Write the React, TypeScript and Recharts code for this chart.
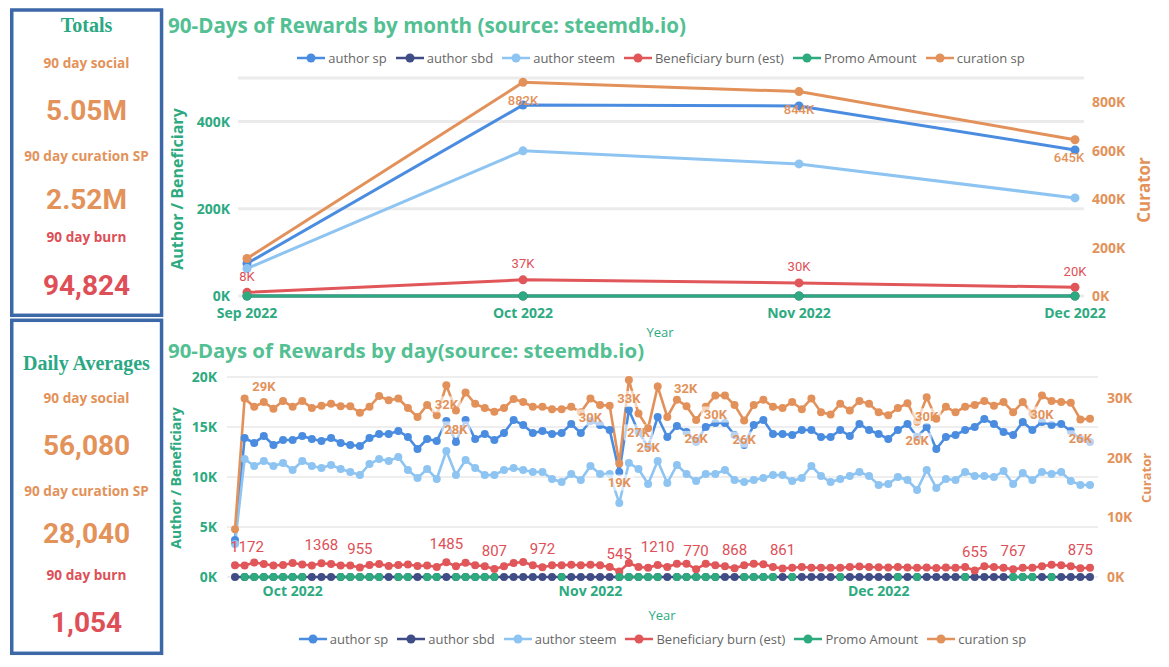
import React from 'react';
import { ComposedChart, Line, XAxis, YAxis, CartesianGrid } from 'recharts';

const GREEN = '#2DAA7F';
const TITLE_GREEN = '#52C092';
const ORANGE = '#E3925A';
const RED = '#DE4F57';
const BORDER = '#3D68A8';

const SERIES = [
  { key: 'authorSp', name: 'author sp', color: '#4A8CE0' },
  { key: 'authorSbd', name: 'author sbd', color: '#3F4C85' },
  { key: 'authorSteem', name: 'author steem', color: '#8EC4F2' },
  { key: 'burn', name: 'Beneficiary burn (est)', color: '#E05659' },
  { key: 'promo', name: 'Promo Amount', color: '#2DAA7E' },
  { key: 'curation', name: 'curation sp', color: '#E3915A' },
];

// monthly totals
const months = ['Sep 2022', 'Oct 2022', 'Nov 2022', 'Dec 2022'];
const monthAuthorSp = [74500, 438000, 436000, 335000];
const monthAuthorSbd = [0, 0, 0, 0];
const monthAuthorSteem = [63000, 333000, 303000, 225000];
const monthBurn = [8400, 37000, 30000, 20000];
const monthPromo = [0, 0, 0, 0];
const monthCuration = [155000, 882000, 844000, 645000];

// daily values, 2022-09-25 .. 2022-12-23 (K units unless noted)
const firstDay = '2022-09-25';
const dayAuthorSpK = [
  3.7, 13.9, 13.4, 14.1, 13.2, 13.7, 13.7, 14.1, 13.8, 13.6,
  13.9, 13.4, 13.2, 13.1, 13.9, 14.3, 14.3, 14.6, 14.0, 12.8,
  13.8, 13.6, 15.6, 13.5, 15.7, 13.8, 14.3, 13.7, 14.4, 15.7,
  15.2, 14.4, 14.6, 14.3, 14.4, 15.3, 14.4, 15.6, 15.2, 14.7,
  10.5, 16.7, 14.5, 13.0, 16.0, 14.0, 15.1, 14.5, 13.5, 15.0,
  15.4, 15.4, 14.2, 13.2, 15.2, 15.7, 14.3, 14.3, 14.2, 14.7,
  14.7, 14.0, 14.0, 14.7, 14.1, 15.3, 14.7, 14.3, 13.8, 14.7,
  15.3, 14.0, 15.0, 12.8, 14.0, 14.2, 14.7, 15.0, 15.8, 15.3,
  14.5, 14.2, 15.5, 14.7, 15.5, 15.2, 15.3, 14.6, 13.8, 13.5,
];
const dayAuthorSteemK = [
  3.3, 11.8, 11.1, 11.6, 11.1, 11.4, 10.7, 11.6, 11.1, 10.9,
  11.2, 10.8, 10.5, 10.2, 11.3, 11.8, 11.6, 12.0, 10.7, 9.9,
  10.8, 9.8, 12.6, 10.2, 11.7, 10.9, 10.2, 10.2, 10.7, 10.9,
  10.7, 10.5, 10.5, 9.8, 9.5, 10.3, 9.7, 11.1, 10.3, 10.3,
  7.4, 11.4, 10.8, 9.3, 11.6, 9.4, 11.2, 10.3, 9.6, 10.3,
  10.3, 10.7, 9.7, 9.5, 9.7, 9.9, 10.2, 10.2, 9.6, 9.9,
  11.1, 10.1, 9.5, 9.8, 10.1, 10.5, 10.1, 9.2, 9.3, 10.0,
  9.7, 8.7, 10.7, 8.9, 9.8, 9.7, 10.5, 10.1, 10.1, 10.0,
  10.6, 9.3, 10.4, 9.7, 10.5, 10.3, 10.5, 9.6, 9.2, 9.2,
];
const dayCurationK = [
  8.0, 29.9, 28.5, 29.3, 28.2, 29.5, 28.5, 29.5, 28.3, 28.7,
  29.0, 28.6, 28.6, 27.5, 28.5, 30.3, 29.6, 29.9, 28.3, 26.8,
  28.8, 27.1, 32.1, 27.9, 30.9, 29.0, 28.3, 27.7, 28.3, 29.8,
  29.3, 28.5, 28.5, 28.1, 28.1, 28.5, 27.6, 29.9, 28.8, 28.7,
  19.0, 33.0, 27.4, 24.9, 31.9, 26.8, 29.7, 28.6, 26.3, 28.5,
  30.4, 30.4, 28.8, 26.2, 28.8, 29.7, 28.5, 28.3, 29.3, 28.1,
  29.9, 27.6, 27.2, 29.0, 27.9, 29.5, 29.0, 27.6, 27.1, 28.3,
  29.1, 26.0, 30.1, 26.5, 28.5, 27.6, 28.5, 28.8, 29.5, 28.7,
  29.3, 27.6, 29.3, 27.4, 30.4, 29.5, 29.3, 29.2, 26.4, 26.5,
];
// raw units
const dayBurn = [
  1172, 1150, 1450, 1300, 1150, 1200, 1400, 1250, 1150, 1368,
  1300, 1150, 1150, 955, 1200, 1300, 1100, 1200, 1250, 1100,
  1150, 1000, 1485, 1070, 1430, 1170, 1070, 807, 1070, 1400,
  1500, 1170, 972, 1170, 1170, 1230, 1170, 1230, 1170, 1000,
  545, 1400, 1000, 930, 1210, 1000, 1330, 1330, 770, 1330,
  1170, 1070, 868, 1170, 1330, 1270, 1000, 861, 930, 1000,
  930, 930, 930, 930, 1000, 1050, 1000, 980, 950, 1000,
  950, 930, 950, 900, 950, 930, 1000, 655, 1070, 1000,
  930, 767, 930, 930, 1070, 1230, 1170, 1070, 875, 930,
];
const dayAuthorSbd = [
  0, 0, 0, 0, 0, 0, 0, 0, 0, 0,  0, 0, 0, 0, 0, 0, 0, 0, 0, 0,
  0, 0, 0, 0, 0, 0, 0, 0, 0, 0,  0, 0, 0, 0, 0, 0, 0, 0, 0, 0,
  0, 0, 0, 0, 0, 0, 0, 0, 0, 0,  0, 0, 0, 0, 0, 0, 0, 0, 0, 0,
  0, 0, 0, 0, 0, 0, 0, 0, 0, 0,  0, 0, 0, 0, 0, 0, 0, 0, 0, 0,
  0, 0, 0, 0, 0, 0, 0, 0, 0, 0,
];
const N = null;
const dayPromo = [
  N, 0, 0, 0, 0, 0, 0, 0, N, N,
  N, 0, 0, 0, 0, 0, N, 0, 0, N,
  0, 0, N, 0, 0, 0, 0, 0, N, N,
  N, N, N, N, 0, N, N, N, N, N,
  0, 0, 0, 0, 0, N, 0, 0, 0, 0,
  0, N, N, 0, 0, 0, 0, N, 0, N,
  N, N, N, 0, N, N, N, N, N, 0,
  N, 0, N, N, N, N, 0, N, N, N,
  N, 0, 0, 0, N, 0, N, N, N, N,
];

const dayTicks = ['2022-10-01', '2022-11-01', '2022-12-01'];
const dayTickLabels = ['Oct 2022', 'Nov 2022', 'Dec 2022'];

// which points carry a data label
const curationLabelIdx = [3, 22, 23, 37, 40, 41, 42, 43, 44, 48, 50, 53, 71, 72, 84, 88];
const curationLabelAbove = [3];
const curationLabelRight = [44];
const burnLabelIdx = [0, 9, 13, 22, 27, 32, 40, 44, 48, 52, 57, 77, 81, 88];

const days = dayAuthorSpK.map((_, i) => {
  const d = new Date(firstDay + 'T00:00:00Z');
  d.setUTCDate(d.getUTCDate() + i);
  return d.toISOString().slice(0, 10);
});

const monthRows = months.map((m, i) => ({
  month: m,
  authorSp: monthAuthorSp[i],
  authorSbd: monthAuthorSbd[i],
  authorSteem: monthAuthorSteem[i],
  burn: monthBurn[i],
  promo: monthPromo[i],
  curation: monthCuration[i],
}));

const dayRows = days.map((d, i) => ({
  day: d,
  authorSp: dayAuthorSpK[i] * 1000,
  authorSbd: dayAuthorSbd[i],
  authorSteem: dayAuthorSteemK[i] * 1000,
  burn: dayBurn[i],
  promo: dayPromo[i],
  curation: dayCurationK[i] * 1000,
}));

const kFmt = (v: number) => `${Math.round(v / 1000)}K`;

type Lab = { text: string; dx?: number; dy: number; fill: string; size: number; weight: number; halo?: boolean };

const makeDot = (fill: string, r: number, getLabel?: (i: number, v: number) => Lab | null) => (props: any) => {
  const { cx, cy, index, value } = props;
  if (cx == null || cy == null || Number.isNaN(cx) || Number.isNaN(cy)) return <g key={`e-${index}`} />;
  const v = Array.isArray(value) ? value[1] : value;
  const lab = getLabel ? getLabel(index, v) : null;
  const lx = lab ? cx + (lab.dx || 0) : cx;
  return (
    <g key={`d-${index}`}>
      <circle cx={cx} cy={cy} r={r} fill={fill} />
      {lab && (
        <g>
          {lab.halo && (
            <rect x={lx - lab.text.length * lab.size * 0.32 - 2} y={cy + lab.dy - lab.size * 0.62}
              width={lab.text.length * lab.size * 0.64 + 4} height={lab.size * 1.24} fill="#fff" fillOpacity={0.62} />
          )}
          <text x={lx} y={cy + lab.dy} textAnchor="middle" dominantBaseline="central"
            fontFamily="Roboto, sans-serif" fontSize={lab.size} fontWeight={lab.weight} fill={lab.fill}>{lab.text}</text>
        </g>
      )}
    </g>
  );
};

const monthBurnLabel = (i: number, v: number): Lab =>
  ({ text: kFmt(v), dy: -16, fill: RED, size: 13, weight: 400 });
const monthCurationLabel = (i: number, v: number): Lab | null =>
  i === 0 ? null : { text: kFmt(v), dx: i === 3 ? -6 : 0, dy: 18, fill: ORANGE, size: 13, weight: 500 };
const dayBurnLabel = (i: number, v: number): Lab | null =>
  burnLabelIdx.includes(i) ? { text: String(v), dx: i === 0 ? 12 : 0, dy: -18, fill: RED, size: 15, weight: 400 } : null;
const dayCurationLabel = (i: number, v: number): Lab | null => {
  if (!curationLabelIdx.includes(i)) return null;
  if (curationLabelRight.includes(i)) return { text: kFmt(v), dx: 28, dy: 2, fill: ORANGE, size: 13, weight: 700, halo: true };
  return { text: kFmt(v), dy: curationLabelAbove.includes(i) ? -16 : 19, fill: ORANGE, size: 13, weight: 700, halo: true };
};

const tickFont = { fontFamily: 'Open Sans', fontSize: 14, fontWeight: 700 };

const DayTick = (props: any) => {
  const { x, y, payload } = props;
  const k = dayTicks.indexOf(payload.value);
  if (k < 0) return <g />;
  return (
    <text x={x} y={y} dy={11} textAnchor="middle" fill={GREEN} {...tickFont}>{dayTickLabels[k]}</text>
  );
};

const LegendRow = ({ top, left, width }: { top: number; left: number; width: number }) => (
  <div style={{ position: 'absolute', top, left, width, height: 20, display: 'flex', justifyContent: 'center',
    alignItems: 'center', gap: 9, fontFamily: 'Open Sans', fontSize: 13, color: '#666', whiteSpace: 'nowrap' }}>
    {SERIES.map(s => (
      <div key={s.key} style={{ display: 'flex', alignItems: 'center' }}>
        <svg width={28} height={10}>
          <line x1={0} y1={5} x2={28} y2={5} stroke={s.color} strokeWidth={2.5} />
          <circle cx={14} cy={5} r={4.5} fill={s.color} />
        </svg>
        <span style={{ marginLeft: 3 }}>{s.name}</span>
      </div>
    ))}
  </div>
);

const seriesLines = (small: boolean, labels: Record<string, (i: number, v: number) => Lab | null>) =>
  SERIES.map(s => (
    <Line key={s.key} yAxisId={s.key === 'curation' ? 'right' : 'left'} type="linear" dataKey={s.key} name={s.name}
      stroke={s.color} strokeWidth={small ? 2.6 : 3} connectNulls={false}
      dot={makeDot(s.color, small ? 4 : 4.5, labels[s.key])} activeDot={false} isAnimationActive={false} />
  ));

const panelTexts = [
  { t: 'Totals', y: 25, kind: 'head' },
  { t: '90 day social', y: 62, kind: 'cap', c: ORANGE },
  { t: '5.05M', y: 110, kind: 'big', c: ORANGE },
  { t: '90 day curation SP', y: 155, kind: 'cap', c: ORANGE },
  { t: '2.52M', y: 199, kind: 'big', c: ORANGE },
  { t: '90 day burn', y: 236, kind: 'cap', c: RED },
  { t: '94,824', y: 285, kind: 'big', c: RED },
  { t: 'Daily Averages', y: 363, kind: 'head' },
  { t: '90 day social', y: 397, kind: 'cap', c: ORANGE },
  { t: '56,080', y: 445, kind: 'big', c: ORANGE },
  { t: '90 day curation SP', y: 490, kind: 'cap', c: ORANGE },
  { t: '28,040', y: 533, kind: 'big', c: ORANGE },
  { t: '90 day burn', y: 574, kind: 'cap', c: RED },
  { t: '1,054', y: 622, kind: 'big', c: RED },
];

export default function App() {
  return (
    <div style={{ position: 'absolute', left: 0, top: 0, width: 1169, height: 667, background: '#fff', overflow: 'hidden' }}>
      <div style={{ position: 'absolute', left: 160, top: 0 }}>
        <ComposedChart width={1009} height={340} data={monthRows} margin={{ top: 78, right: 0, bottom: 0, left: 0 }}>
          <CartesianGrid yAxisId="left" vertical={false} stroke="#EBEBEB" strokeWidth={3} />
          <XAxis dataKey="month" axisLine={false} tickLine={false} height={44} tickMargin={6}
            padding={{ left: 9, right: 9 }} interval={0} tick={{ fill: GREEN, ...tickFont }} />
          <YAxis yAxisId="left" width={78} domain={[0, 500000]} ticks={[0, 200000, 400000]} axisLine={false}
            tickLine={false} tickFormatter={kFmt} tick={{ fill: GREEN, ...tickFont }} />
          <YAxis yAxisId="right" orientation="right" width={85} domain={[0, 900000]}
            ticks={[0, 200000, 400000, 600000, 800000]} axisLine={false} tickLine={false} tickFormatter={kFmt}
            tick={{ fill: ORANGE, ...tickFont }} />
          {seriesLines(false, { burn: monthBurnLabel, curation: monthCurationLabel })}
        </ComposedChart>
      </div>

      <div style={{ position: 'absolute', left: 160, top: 340 }}>
        <ComposedChart width={1009} height={285} data={dayRows} margin={{ top: 37, right: 0, bottom: 0, left: 0 }}>
          <CartesianGrid yAxisId="left" vertical={false} stroke="#E8E8E8" strokeWidth={1.5} />
          <XAxis dataKey="day" axisLine={false} tickLine={false} height={48} interval={0}
            padding={{ left: 8, right: 8 }} tick={<DayTick />} />
          <YAxis yAxisId="left" width={67} domain={[0, 20000]} ticks={[0, 5000, 10000, 15000, 20000]}
            axisLine={false} tickLine={false} tickMargin={4} tickFormatter={kFmt} tick={{ fill: GREEN, ...tickFont }} />
          <YAxis yAxisId="right" orientation="right" width={71} domain={[0, 33500]} ticks={[0, 10000, 20000, 30000]}
            axisLine={false} tickLine={false} tickMargin={3} tickFormatter={kFmt} tick={{ fill: ORANGE, ...tickFont }} />
          {seriesLines(true, { burn: dayBurnLabel, curation: dayCurationLabel })}
        </ComposedChart>
      </div>

      <LegendRow top={48} left={238} width={846} />
      <LegendRow top={629} left={227} width={871} />

      <svg width={1169} height={667} style={{ position: 'absolute', left: 0, top: 0, pointerEvents: 'none' }}>
        <rect x={11.75} y={10} width={149.8} height={305.3} fill="none" stroke={BORDER} strokeWidth={3.5} />
        <rect x={11.75} y={320.3} width={149.8} height={333} fill="none" stroke={BORDER} strokeWidth={3.5} />
        {panelTexts.map((p, i) => (
          <text key={i} x={86.5} y={p.y} textAnchor="middle" dominantBaseline="central"
            fontFamily={p.kind === 'head' ? "'Liberation Serif', serif" : p.kind === 'big' ? 'Roboto, sans-serif' : "'Open Sans', sans-serif"}
            fontSize={p.kind === 'head' ? 20 : p.kind === 'big' ? 28 : 13.6} fontWeight={700}
            fill={p.kind === 'head' ? '#2AA883' : p.c}>{p.t}</text>
        ))}

        <text x={168} y={25} dominantBaseline="central" fontFamily="'Open Sans', sans-serif" fontSize={20.6}
          fontWeight={700} fill={TITLE_GREEN}>90-Days of Rewards by month (source: steemdb.io)</text>
        <text x={168} y={350} dominantBaseline="central" fontFamily="'Open Sans', sans-serif" fontSize={20.4}
          fontWeight={700} fill={TITLE_GREEN}>90-Days of Rewards by day(source: steemdb.io)</text>

        <text transform="translate(177 189) rotate(-90)" textAnchor="middle" dominantBaseline="central"
          fontFamily="'Open Sans', sans-serif" fontSize={16} fontWeight={700} fill={GREEN}>Author / Beneficiary</text>
        <text transform="translate(175 478) rotate(-90)" textAnchor="middle" dominantBaseline="central"
          fontFamily="'Open Sans', sans-serif" fontSize={14} fontWeight={700} fill={GREEN}>Author / Beneficiary</text>
        <text transform="translate(1143 190) rotate(-90)" textAnchor="middle" dominantBaseline="central"
          fontFamily="'Open Sans', sans-serif" fontSize={17} fontWeight={700} fill={ORANGE}>Curator</text>
        <text transform="translate(1146 478) rotate(-90)" textAnchor="middle" dominantBaseline="central"
          fontFamily="'Open Sans', sans-serif" fontSize={13} fontWeight={700} fill={ORANGE}>Curator</text>
        <text x={660} y={332} textAnchor="middle" dominantBaseline="central" fontFamily="'Open Sans', sans-serif"
          fontSize={13} fill={GREEN}>Year</text>
        <text x={662} y={615} textAnchor="middle" dominantBaseline="central" fontFamily="'Open Sans', sans-serif"
          fontSize={13} fill={GREEN}>Year</text>
      </svg>
    </div>
  );
}
